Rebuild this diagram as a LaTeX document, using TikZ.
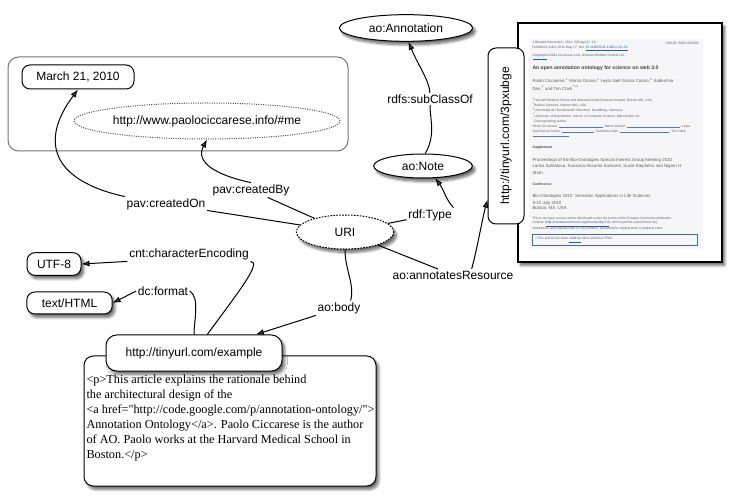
\documentclass[tikz,border=0pt]{standalone}
\usepackage{fontspec}
\setmainfont{Liberation Sans}
\newfontfamily\htmlfont{Liberation Serif}
\usetikzlibrary{arrows.meta,shapes.geometric,shadows.blur,calc}
\definecolor{linkblue}{RGB}{45,85,165}
\definecolor{pmcpage}{RGB}{246,246,248}
\definecolor{pmctext}{RGB}{95,95,100}
\newcommand\pmclink[1]{\textcolor{linkblue}{\underline{#1}}}
\newcommand\pmcmail[1]{\textcolor{linkblue!80}{\rule[-0.5pt]{#1}{0.9pt}}}
\newcommand\sups[1]{\textsuperscript{#1}}

\begin{document}
\begin{tikzpicture}[x=0.75pt,y=-0.75pt,line width=0.75pt,
  font=\fontsize{9}{11}\selectfont,
  dropped/.style={blur shadow={shadow xshift=2pt,shadow yshift=-2.5pt,shadow blur radius=2pt,shadow blur steps=8,shadow opacity=60}},
  literal/.style={draw,fill=white,rounded corners=6pt,inner sep=0pt},
  resource/.style={draw,fill=white,ellipse,inner sep=0pt},
  prop/.style={inner sep=1pt},
  rel/.style={-{Latex[length=6pt,width=4.5pt]}},
  pmc/.style={anchor=west,inner sep=0pt,text=pmctext,font=\fontsize{3.3}{4}\selectfont},
  pmcsmall/.style={pmc,font=\fontsize{2.5}{3}\selectfont},
  pmchead/.style={pmc,text=black!70,font=\bfseries\fontsize{2.6}{3}\selectfont}]
  \useasboundingbox (0,0) rectangle (732,502);

  \draw[black!55,rounded corners=8pt] (8,57) rectangle (348,151);
  \node[literal,minimum width=84pt,minimum height=18pt] (date) at (78,77) {March 21, 2010};
  \node[resource,densely dotted,draw=black!70,minimum width=195pt,minimum height=27pt] (author) at (207,121) {http://www.paolociccarese.info/\#me};

  \node[resource,dropped,minimum width=100pt,minimum height=20pt] (annotation) at (406,28) {ao:Annotation};
  \node[resource,dropped,minimum width=74pt,minimum height=18pt] (note) at (423,166) {ao:Note};
  \node[resource,dropped,dash pattern=on 1.2pt off 1pt,minimum width=73pt,minimum height=25.5pt] (uri) at (345,232) {URI};

  \begin{scope}
    \draw[line width=1.2pt,fill=white,dropped] (518,23) rectangle (722,262);
    \fill[pmcpage] (529,39) rectangle (703,249);
    \node[pmcsmall] (pmc1) at (532,43) {J Biomed Semantics. 2011; 2(Suppl 2): S4.};
    \node[pmcsmall,anchor=east] (pmcid) at (699,43) {PMCID: PMC3102893};
    \node[pmcsmall] (pmc2) at (532,49) {Published online 2011 May 17. doi: \pmclink{10.1186/2041-1480-2-S2-S4}};
    \node[pmcsmall] (pmc3) at (532,57) {\pmclink{Copyright} ©2011 Ciccarese et al; licensee BioMed Central Ltd.};
    \node[pmc,text=black!75,font=\bfseries\fontsize{3.8}{4.5}\selectfont] (pmctitle) at (532,68) {An open annotation ontology for science on web 3.0};
    \node[pmc] (pmc4) at (532,81) {Paolo Ciccarese,\sups{1} Marco Ocana,\sups{2} Leyla Jael Garcia Castro,\sups{3} Sudeshna};
    \node[pmc] (pmc5) at (532,88) {Das,\sups{1} and Tim Clark\sups{*1,4}};
    \node[pmcsmall] (pmc6) at (532,100) {\sups{1}Harvard Medical School and Massachusetts General Hospital, Boston MA, USA};
    \node[pmcsmall] (pmc7) at (532,105) {\sups{2}Balboa Systems, Newton MA, USA};
    \node[pmcsmall] (pmc8) at (532,110) {\sups{3}Universität der Bundeswehr München, Neubiberg, Germany};
    \node[pmcsmall] (pmc9) at (532,115.5) {\sups{4}University of Manchester, School of Computer Science, Manchester UK};
    \node[pmcsmall] (pmc10) at (532,120.5) {\sups{*}Corresponding author.};
    \node[pmcsmall] (pmc11) at (532,126.5) {Paolo Ciccarese: \pmcmail{33pt}, Marco Ocana: \pmcmail{40pt}; Leyla};
    \node[pmcsmall] (pmc12) at (532,131.5) {Jael Garcia Castro: \pmcmail{24pt}; Sudeshna Das: \pmcmail{37pt}; Tim Clark:};
    \node[pmcsmall] (pmc13) at (532,136.5) {\pmcmail{27pt}};
    \node[pmchead] (pmc14) at (532,148) {Supplement};
    \node[pmc] (pmc15) at (532,160) {Proceedings of the Bio-Ontologies Special Interest Group Meeting 2010};
    \node[pmc] (pmc16) at (532,166) {Larisa Soldatova, Susanna-Assunta Sansone, Susie Stephens and Nigam H};
    \node[pmc] (pmc17) at (532,173) {Shah};
    \node[pmchead] (pmc18) at (532,184) {Conference};
    \node[pmc] (pmc19) at (532,196.5) {Bio-Ontologies 2010: Semantic Applications in Life Sciences};
    \node[pmc] (pmc20) at (532,203) {9-10 July 2010};
    \node[pmc] (pmc21) at (532,208.5) {Boston, MA, USA};
    \node[pmcsmall] (pmc22) at (532,218.5) {This is an open access article distributed under the terms of the Creative Commons Attribution};
    \node[pmcsmall] (pmc23) at (532,224) {License (\pmclink{http://creativecommons.org/licenses/by/2.0}), which permits unrestricted use,};
    \node[pmcsmall] (pmc24) at (532,229) {distribution, and reproduction in any medium, provided the original work is properly cited.};
    \draw[linkblue!60!gray,line width=0.4pt] (532,234.5) rectangle (697,245.5);
    \node[pmcsmall] (pmc25) at (535,240) {\textbullet{} This article has been \pmclink{cited by} other articles in PMC.};
  \end{scope}
  \node[literal,rotate=90,minimum width=132pt,minimum height=27pt] (page) at (506,136) {http://tinyurl.com/3pxubge};

  \draw[fill=white,rounded corners=7pt,dropped] (84,356) rectangle (376,486);
  \node[anchor=north west,inner sep=0pt,align=left,font=\htmlfont\fontsize{9.2}{11.3}\selectfont] (content) at (86,374)
    {<p>This article explains the rationale behind\\
     the architectural design of the\\
     <a href="http://code.google.com/p/annotation-ontology/">\\
     Annotation Ontology</a>. Paolo Ciccarese is the author\\
     of AO. Paolo works at the Harvard Medical School in\\
     Boston.</p>};
  \node[literal,dropped,rounded corners=8pt,minimum width=132pt,minimum height=27pt] (example) at (194,353) {http://tinyurl.com/example};

  \node[literal,dropped,minimum width=40.5pt,minimum height=17pt] (utf) at (54,264) {UTF-8};
  \node[literal,dropped,minimum width=64pt,minimum height=16.5pt] (mime) at (69.5,303) {text/HTML};

  \node[prop] (createdOn) at (166,204) {pav:createdOn};
  \node[prop] (createdBy) at (251,190) {pav:createdBy};
  \node[prop] (type) at (430,215) {rdf:Type};
  \node[prop] (subclass) at (430,99) {rdfs:subClassOf};
  \node[prop] (target) at (453,275) {ao:annotatesResource};
  \node[prop] (body) at (339,308) {ao:body};
  \node[prop] (encoding) at (189,254) {cnt:characterEncoding};
  \node[prop] (format) at (163,291) {dc:format};

  \draw (uri) -- (createdOn);
  \draw[rel] (createdOn.north west) .. controls (50,180) and (40,140) .. (date.south);
  \draw (uri) -- (createdBy);
  \draw[rel] (createdBy.north) .. controls (215,175) and (195,162) .. (author.south);
  \draw (uri) -- (type);
  \draw[rel] (type.north east) .. controls (446,200) and (444,190) .. (note.-45);
  \draw (uri) -- (target);
  \draw[rel] ($(target.north)!0.3!(target.north east)$) .. controls (478,245) and (482,220) .. ($(page.north west)!0.14!(page.north east)$);
  \draw (note.80) .. controls (436,135) and (430,120) .. (subclass.south);
  \draw[rel] (subclass.north) .. controls (429,80) and (418,65) .. (annotation.-80);
  \draw (uri.south) .. controls (345,270) and (355,285) .. ($(body.north)!0.5!(body.north east)$);
  \draw[rel] (body.south west) -- ($(example.north)!0.7!(example.north east)$);
  \draw ($(example.north)!0.15!(example.north east)$) .. controls (240,290) and (262,262) .. (encoding.south east);
  \draw[rel] (encoding.south west) -- (utf.east);
  \draw (example.north) .. controls (194,320) and (200,298) .. (format.east);
  \draw[rel] (format.west) -- (mime.east);
\end{tikzpicture}
\end{document}
